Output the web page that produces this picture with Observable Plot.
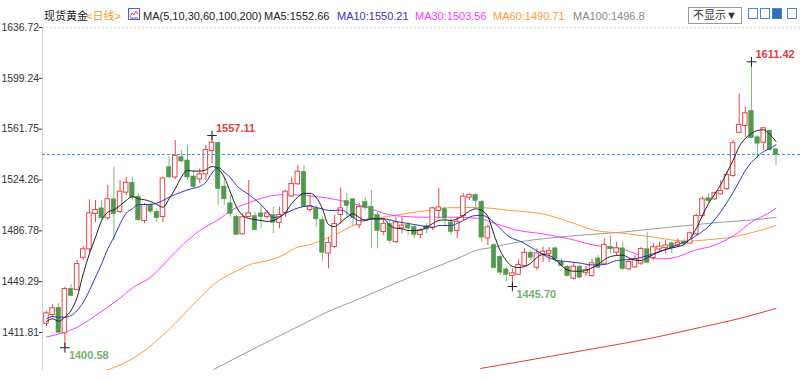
<!DOCTYPE html>
<html><head><meta charset="utf-8">
<script src="https://cdn.jsdelivr.net/npm/d3@7"></script>
<script src="https://cdn.jsdelivr.net/npm/@observablehq/plot@0.6"></script>
<style>
body{margin:0;background:#fff;font-family:"Liberation Sans","Noto Sans CJK SC",sans-serif;}
#wrap{position:relative;width:800px;height:380px;overflow:hidden;background:#fff;}
#chart{position:absolute;left:0;top:0;}
#hdr{position:absolute;left:0;top:0;width:800px;height:26px;z-index:2;}
#hdr span{position:absolute;top:9px;font-size:11px;line-height:14px;white-space:nowrap;}
#hdr .btn{top:7px;height:15px;line-height:15px;border:1px solid #9a9a9a;padding:0 4px;color:#333;background:#fff;}
#hdr .ic{top:8px;width:8px;height:9px;border:1px solid #4f86c6;background:#fff;}
</style></head><body>
<div id="wrap"><div id="chart"></div><div id="hdr"></div></div>
<script>
// ---- data ----
const opens  = [1418.7,1425.1,1429.7,1411.6,1443.7,1443.5,1467.3,1473.5,1499.6,1503.0,1496.4,1509.7,1501.0,1515.3,1521.9,1511.6,1494.4,1505.5,1500.5,1497.3,1533.3,1526.5,1540.8,1538.3,1526.5,1525.1,1528.8,1546.0,1551.4,1519.0,1506.7,1496.8,1484.6,1497.3,1497.3,1499.3,1497.3,1498.1,1493.1,1500.3,1512.5,1521.5,1530.0,1502.5,1503.0,1494.4,1470.4,1475.2,1498.8,1508.4,1509.7,1491.2,1507.7,1504.2,1498.1,1486.3,1491.4,1478.9,1488.9,1490.7,1489.2,1484.1,1490.0,1489.5,1501.8,1502.5,1492.6,1487.0,1498.1,1511.6,1512.8,1507.9,1481.6,1476.0,1467.3,1458.0,1453.8,1454.7,1461.2,1470.3,1460.0,1469.8,1470.2,1473.5,1463.6,1459.9,1451.8,1460.0,1455.9,1453.8,1466.1,1462.5,1474.7,1471.0,1473.5,1458.8,1460.2,1463.0,1472.8,1467.1,1473.5,1474.5,1477.2,1475.9,1478.4,1477.7,1484.6,1498.1,1510.4,1510.4,1514.1,1517.9,1527.6,1559.5,1564.5,1574.8,1555.4,1552.1,1560.3,1546.5];
const highs  = [1427.3,1432.4,1433.2,1445.2,1447.2,1464.9,1475.2,1509.7,1509.1,1509.1,1520.2,1533.7,1523.9,1526.3,1526.3,1514.1,1507.2,1507.2,1503.0,1526.3,1541.2,1553.4,1546.0,1549.7,1531.3,1532.5,1549.7,1557.11,1552.1,1526.3,1512.8,1498.1,1499.3,1523.9,1500.5,1505.5,1501.8,1504.2,1504.2,1516.5,1526.3,1535.0,1535.0,1512.8,1505.5,1496.8,1481.9,1498.1,1518.4,1514.3,1510.6,1506.7,1511.6,1516.5,1500.5,1495.6,1494.4,1496.8,1496.8,1493.1,1490.7,1488.3,1492.0,1504.2,1517.9,1504.2,1495.6,1496.8,1514.1,1514.1,1514.1,1509.1,1490.7,1477.2,1468.6,1460.0,1458.8,1465.4,1473.5,1472.3,1473.5,1474.7,1474.5,1474.7,1466.4,1461.2,1462.5,1461.2,1460.6,1466.1,1468.6,1480.9,1483.3,1478.4,1478.4,1464.9,1468.6,1474.7,1485.8,1477.2,1478.4,1479.6,1478.4,1480.9,1480.9,1485.8,1499.3,1511.6,1514.1,1515.3,1523.9,1530.0,1553.4,1587.8,1578.0,1611.42,1557.1,1563.2,1560.8,1547.3];
const lows   = [1416.2,1422.9,1411.1,1400.58,1438.3,1442.8,1464.9,1471.0,1492.9,1494.4,1494.4,1479.6,1499.6,1512.8,1509.1,1493.9,1492.0,1499.3,1493.1,1493.1,1525.1,1524.6,1536.8,1523.9,1517.9,1521.5,1523.9,1536.0,1505.5,1505.5,1496.8,1483.5,1483.6,1496.4,1487.0,1488.3,1495.6,1484.6,1488.3,1496.8,1511.6,1520.2,1504.2,1500.5,1489.5,1464.2,1458.8,1473.7,1491.4,1496.6,1489.5,1488.3,1501.8,1473.5,1473.5,1483.3,1477.2,1477.2,1484.6,1483.3,1480.9,1480.9,1484.6,1487.0,1495.6,1490.7,1483.3,1480.9,1494.4,1509.1,1504.2,1478.4,1476.0,1458.7,1453.8,1449.0,1445.70,1453.8,1459.9,1464.9,1457.6,1463.6,1463.4,1463.6,1460.0,1452.6,1450.6,1451.6,1453.1,1452.6,1458.8,1461.2,1469.8,1468.6,1457.6,1457.6,1458.9,1461.2,1462.5,1464.9,1471.0,1469.8,1469.8,1474.7,1474.7,1477.2,1483.3,1496.8,1506.7,1509.1,1513.4,1516.5,1526.3,1558.3,1555.8,1554.6,1540.0,1546.0,1546.0,1535.0];
const closes = [1425.6,1429.3,1412.0,1443.5,1439.1,1461.9,1472.8,1499.3,1501.8,1496.4,1509.7,1499.3,1515.3,1521.9,1511.6,1494.9,1505.5,1501.3,1496.4,1525.1,1526.5,1541.7,1538.3,1526.5,1519.5,1528.1,1546.0,1551.4,1517.9,1510.4,1499.6,1484.1,1496.4,1499.3,1487.5,1497.3,1499.3,1493.1,1498.1,1515.3,1520.9,1530.0,1504.7,1504.7,1495.6,1471.0,1477.4,1491.4,1503.0,1505.5,1496.6,1504.0,1504.0,1495.9,1487.0,1491.4,1479.6,1492.6,1490.3,1488.9,1484.1,1486.7,1488.1,1503.0,1503.6,1496.2,1486.3,1493.1,1511.6,1512.8,1509.1,1482.1,1489.0,1459.7,1456.3,1454.7,1455.1,1461.2,1470.2,1467.3,1469.8,1471.0,1471.5,1466.1,1461.2,1453.8,1459.9,1452.6,1457.6,1462.5,1460.0,1476.0,1473.5,1473.5,1458.9,1463.4,1465.6,1473.0,1463.6,1474.3,1474.7,1475.6,1474.7,1477.7,1477.2,1484.6,1497.3,1509.7,1509.1,1514.1,1515.8,1527.6,1551.0,1564.5,1573.1,1555.4,1551.4,1562.0,1546.5,1543.07];

// moving averages: [candle index, value]
const ma5 = [[0,1419.9],[1,1421.9],[2,1420.1],[3,1423.1],[4,1428.0],[5,1437.8],[6,1455.1],[7,1469.8],[8,1482.1],[9,1494.4],[10,1500.5],[11,1502.3],[12,1505.5],[13,1509.1],[14,1512.1],[15,1510.4],[16,1509.7],[17,1508.4],[18,1506.2],[19,1504.2],[20,1510.4],[21,1517.8],[22,1526.3],[23,1531.3],[24,1530.8],[25,1530.8],[26,1531.8],[27,1534.2],[28,1532.5],[29,1526.3],[30,1515.3],[31,1504.2],[32,1498.1],[33,1495.9],[34,1495.1],[35,1494.4],[36,1493.7],[37,1494.4],[38,1496.6],[39,1500.5],[40,1506.9],[41,1511.7],[42,1514.3],[43,1514.5],[44,1511.4],[45,1503.2],[46,1491.4],[47,1489.9],[48,1493.1],[49,1496.8],[50,1499.3],[51,1496.8],[52,1494.4],[53,1495.6],[54,1495.6],[55,1495.6],[56,1490.7],[57,1488.7],[58,1488.3],[59,1487.0],[60,1487.0],[61,1487.4],[62,1489.2],[63,1492.2],[64,1494.4],[65,1494.9],[66,1494.4],[67,1495.6],[68,1498.1],[69,1501.3],[70,1503.0],[71,1501.8],[72,1497.3],[73,1484.1],[74,1472.3],[75,1464.9],[76,1460.5],[77,1459.7],[78,1460.5],[79,1462.9],[80,1467.1],[81,1469.3],[82,1468.6],[83,1465.6],[84,1461.2],[85,1457.9],[86,1457.0],[87,1457.0],[88,1457.5],[89,1459.5],[90,1461.9],[91,1465.6],[92,1467.8],[93,1468.6],[94,1468.9],[95,1466.7],[96,1465.2],[97,1464.9],[98,1467.1],[99,1469.3],[100,1471.5],[101,1473.0],[102,1474.1],[103,1475.2],[104,1476.7],[105,1481.1],[106,1488.5],[107,1498.1],[108,1506.9],[109,1513.9],[110,1520.9],[111,1529.8],[112,1538.6],[113,1548.9],[114,1554.9],[115,1558.6],[116,1560.8],[117,1561.3],[118,1557.8],[119,1552.66]];
const ma10 = [[0,1421.9],[1,1423.6],[2,1423.1],[3,1423.1],[4,1424.3],[5,1428.0],[6,1434.1],[7,1442.8],[8,1452.6],[9,1462.5],[10,1473.5],[11,1482.1],[12,1491.9],[13,1499.8],[14,1503.0],[15,1506.2],[17,1506.2],[18,1507.2],[19,1509.1],[20,1511.6],[21,1513.6],[22,1515.3],[23,1517.0],[24,1518.2],[25,1519.5],[26,1522.6],[27,1529.4],[28,1533.7],[29,1530.0],[30,1526.1],[31,1520.2],[32,1516.5],[33,1513.6],[34,1509.9],[35,1506.2],[36,1501.0],[37,1496.6],[38,1497.3],[39,1499.6],[40,1501.8],[41,1503.6],[42,1504.7],[43,1505.1],[44,1504.0],[45,1502.9],[46,1501.8],[47,1501.8],[48,1502.1],[49,1500.3],[50,1496.6],[51,1494.4],[52,1495.1],[53,1495.6],[55,1495.6],[57,1493.7],[59,1492.2],[61,1490.7],[63,1489.2],[64,1490.7],[66,1490.7],[67,1492.2],[68,1494.4],[70,1498.1],[71,1498.1],[72,1496.6],[73,1492.9],[74,1488.5],[75,1484.1],[76,1481.1],[77,1479.6],[78,1477.4],[79,1474.7],[81,1469.3],[83,1465.2],[85,1464.1],[87,1463.0],[89,1461.6],[91,1461.9],[93,1464.9],[95,1465.6],[97,1467.1],[99,1470.0],[101,1473.0],[103,1476.7],[105,1480.4],[106,1483.3],[107,1486.3],[108,1490.0],[109,1495.1],[110,1501.0],[111,1507.7],[112,1515.0],[113,1523.2],[114,1531.3],[115,1537.2],[116,1541.6],[117,1545.3],[118,1547.5],[119,1550.21]];
const ma30 = [[0,1408.5],[5,1415.7],[8.8,1426.8],[11.5,1435.4],[14.2,1445.2],[17,1452.6],[19.7,1464.9],[22.4,1477.2],[25,1487.0],[27.8,1494.4],[30.6,1503.0],[33.3,1507.9],[35.2,1511.0],[39,1513.6],[42.3,1512.8],[45.8,1511.0],[51.2,1505.5],[56.7,1498.1],[62.1,1496.8],[67.5,1496.8],[70.8,1495.6],[73.2,1492.2],[76.5,1487.5],[80.9,1484.6],[85.2,1480.9],[89.6,1476.0],[93.9,1473.5],[96.9,1468.6],[100.2,1466.1],[102.3,1466.9],[105.6,1472.3],[108.9,1476.0],[112.1,1483.3],[115.4,1494.4],[117.6,1499.3],[119,1503.56]];
const ma60 = [[8.5,1382.0],[14.2,1393.0],[19.7,1412.7],[25.1,1437.8],[28.1,1450.1],[30.6,1456.2],[33.6,1462.5],[34.9,1463.6],[39,1469.8],[40.3,1473.5],[43.3,1477.0],[45.8,1481.5],[47.1,1484.0],[51.2,1493.1],[56.7,1498.1],[62.1,1501.8],[65.4,1503.8],[70.3,1504.0],[75.7,1501.8],[80.9,1499.3],[86.3,1491.9],[89.6,1487.0],[93.9,1485.0],[99.1,1482.1],[101.8,1480.2],[104.5,1479.1],[107.8,1480.2],[111,1481.6],[115.4,1485.8],[119,1490.71]];
const ma100 = [[27.3,1384.6],[36.5,1406.0],[41.4,1417.0],[46.3,1428.0],[50.4,1435.4],[56.7,1447.7],[62.1,1457.6],[67.5,1467.3],[70,1472.3],[73,1474.7],[75.4,1477.2],[80.9,1480.9],[86.3,1483.3],[93.9,1485.8],[99.1,1488.3],[104.5,1490.7],[110,1493.1],[115.4,1494.9],[119,1496.8]];
const ma200 = [[70.8,1385.3],[82.2,1394.2],[90.4,1400.8],[98.5,1407.5],[106.7,1415.6],[113.2,1422.3],[119,1429.6]];

const yTicks = [1411.81,1449.29,1486.78,1524.26,1561.75,1599.24,1636.72];
const yDomain = [1383.79, 1636.72];
const markHigh = [27, 115];   // annotated highs
const markLow = [3, 76];      // annotated lows

// ---- colours ----
const UP = "#e5474a", DOWN = "#4f9a4f", DOWNWICK = "#7dbb78";
const maColors = {ma5:"#222222", ma10:"#3434c4", ma30:"#ff3cff", ma60:"#ff9a3c", ma100:"#9a9a9a", ma200:"#e33b3b"};

// ---- header ----
const last = a => a[a.length-1][1];
const hdr = document.getElementById("hdr");
const items = [
  [44,"#222","现货黄金"],
  [86,"#f39a2c","&lt;日线&gt;"],
  [143,"#222","MA(5,10,30,60,100,200)"],
  [264,maColors.ma5,"MA5:"+last(ma5).toFixed(2)],
  [337,maColors.ma10,"MA10:"+last(ma10).toFixed(2)],
  [415,maColors.ma30,"MA30:"+last(ma30).toFixed(2)],
  [493,maColors.ma60,"MA60:"+last(ma60).toFixed(2)],
  [573,"#888","MA100:"+last(ma100)]
];
let html = items.map(([x,c,t])=>`<span style="left:${x}px;color:${c}">${t}</span>`).join("");
html += `<span style="left:128px;top:8px"><svg width="12" height="12"><rect x="0.5" y="0.5" width="11" height="11" fill="#fff" stroke="#4f5fc6"/><polyline points="2,9 4,5 6,7 8,3 10,6" fill="none" stroke="#e0452f"/><polyline points="2,10 10,10" stroke="#4f5fc6"/></svg></span>`;
html += `<span class="btn" style="left:688px">不显示▼</span>`;
[748,760,772,787].forEach((x,k)=>{ html += `<span class="ic" style="left:${x}px;${k===2?'background:#2f6fc0':''}"></span>`; });
hdr.innerHTML = html;

// ---- chart ----
const candles = closes.map((c,i)=>({i, o:opens[i], h:highs[i], l:lows[i], c}));
const ups = candles.filter(d=>d.c>=d.o), downs = candles.filter(d=>d.c<d.o);
const pts = a => a.map(([i,v])=>({i,v}));
const half = 0.37;

const lineMark = (arr,color,w=1) => Plot.line(pts(arr), {x:"i", y:"v", stroke:color, strokeWidth:w, curve:"monotone-x", clip:true});

const chart = Plot.plot({
  width: 800, height: 380,
  marginTop: 27, marginBottom: 10, marginLeft: 42, marginRight: 0,
  style: {fontFamily: "Liberation Sans, Arial, sans-serif", fontSize: "10.4px", color: "#333", background: "transparent", overflow: "visible"},
  x: {domain: [-0.65, 123.0], axis: null},
  y: {domain: yDomain, ticks: yTicks, tickFormat: d=>d.toFixed(2), tickSize: 3, tickPadding: 0.5, label: null},
  marks: [
    Plot.ruleY([yDomain[1]], {stroke:"#d8d8d8", strokeDasharray:"2,2"}),
    Plot.ruleX([-0.65], {stroke:"#d0d0d0"}),
    lineMark(ma200, maColors.ma200),
    lineMark(ma100, maColors.ma100),
    lineMark(ma60, maColors.ma60),
    lineMark(ma30, maColors.ma30),
    Plot.ruleX(downs, {x:"i", y1:"l", y2:"h", stroke:DOWNWICK}),
    Plot.ruleX(ups, {x:"i", y1:"l", y2:"h", stroke:UP}),
    Plot.rect(downs, {x1:d=>d.i-half, x2:d=>d.i+half, y1:"o", y2:"c", fill:DOWN, stroke:DOWN, strokeWidth:0.5, insetTop:-0.5, insetBottom:-0.5}),
    Plot.rect(ups, {x1:d=>d.i-half, x2:d=>d.i+half, y1:"o", y2:"c", fill:"#fff", stroke:UP, insetTop:-0.5, insetBottom:-0.5}),
    lineMark(ma10, maColors.ma10),
    lineMark(ma5, maColors.ma5),
    Plot.ruleY([closes[closes.length-1]], {stroke:"#3d97ee", strokeDasharray:"3,2"}),
    Plot.dot(markHigh, {x:d=>d, y:d=>highs[d], symbol:"plus", r:3.2, stroke:"#222", strokeWidth:1}),
    Plot.dot(markLow, {x:d=>d, y:d=>lows[d], symbol:"plus", r:3.2, stroke:"#222", strokeWidth:1}),
    Plot.text(markHigh, {x:d=>d, y:d=>highs[d], text:d=>highs[d].toFixed(2), dx:4, dy:-7, textAnchor:"start", fill:"#e0403f", fontWeight:"bold", fontSize:11}),
    Plot.text(markLow, {x:d=>d, y:d=>lows[d], text:d=>lows[d].toFixed(2), dx:4, dy:8, textAnchor:"start", fill:"#74b26a", fontWeight:"bold", fontSize:11})
  ]
});
document.getElementById("chart").appendChild(chart);
</script>
</body></html>
